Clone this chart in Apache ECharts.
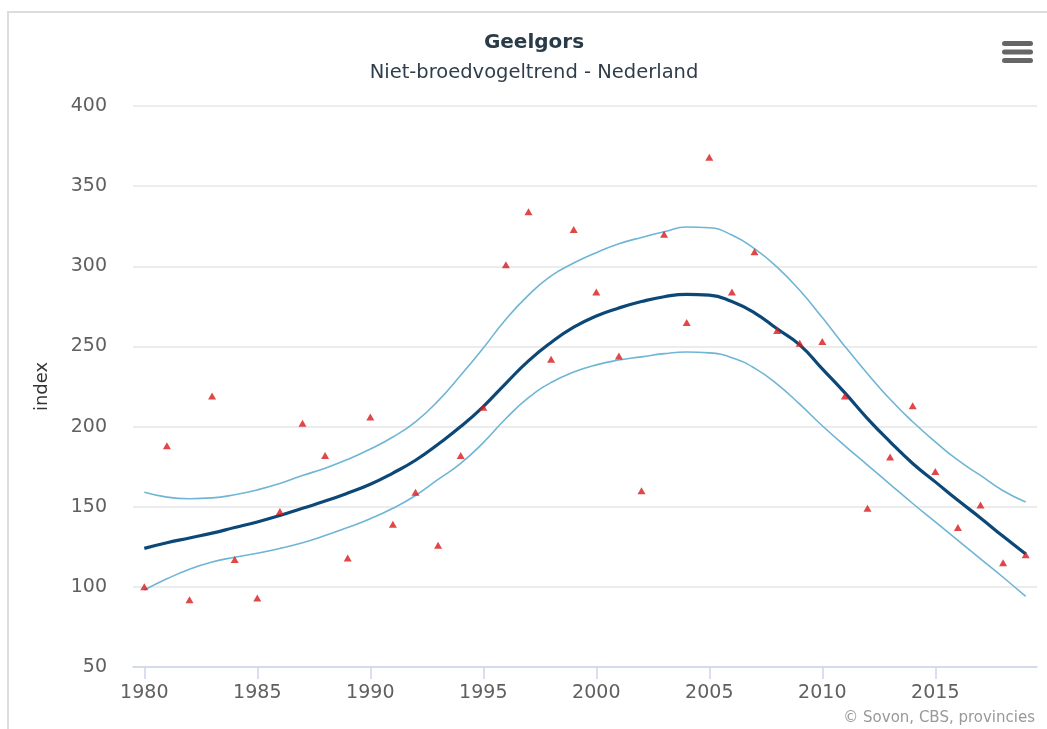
<!DOCTYPE html>
<html>
<head>
<meta charset="utf-8">
<script src="https://cdn.jsdelivr.net/npm/echarts@6/dist/echarts.min.js"></script>
<style>
  html, body { margin: 0; padding: 0; background: #ffffff; }
  #chart { width: 1047px; height: 729px; }
</style>
</head>
<body>
<div id="chart"></div>
<script>
// Years on the horizontal axis
const years = [];
for (let y = 1980; y <= 2019; y++) years.push(String(y));

// Yearly index values (triangles)
const indexValues = [
  100, 188, 92, 219, 117, 93, 147, 202, 182, 118,
  206, 139, 159, 126, 182, 212, 301, 334, 242, 323,
  284, 244, 160, 320, 265, 368, 284, 309, 260, 252,
  253, 219, 149, 181, 213, 172, 137, 151, 115, 120
];

// Smoothed trend
const trendValues = [
  124, 127.5, 130.5, 133.5, 137, 140.5, 144.5, 149, 153.5, 158.5,
  164, 171, 179, 189, 200, 212.5, 227, 241, 252.5, 262,
  269, 274, 278, 281, 282.5, 282, 278, 271, 261, 251,
  236, 221, 205, 190.5, 177, 165.5, 154, 143, 131.5, 120.5
];

// Upper confidence limit
const upperValues = [
  159, 156, 155, 155.5, 157.5, 160.5, 164.5, 169.5, 174, 179.5,
  186, 193.5, 203, 216, 232, 249, 267, 282, 294, 302,
  308.5, 314, 318, 321.5, 324.5, 324, 319.5, 311, 299.5, 285,
  268, 250, 233, 217, 203, 190.5, 179, 169.5, 160, 153
];

// Lower confidence limit
const lowerValues = [
  98, 105, 111, 115.5, 118.5, 121, 124, 127.5, 132, 137,
  142.5, 149, 157, 167, 177, 190, 205, 218, 227.5, 234,
  238.5, 241.5, 243.5, 245.5, 246.5, 246, 243, 236.5, 226.5, 214,
  200.5, 188, 176, 164, 152, 140.5, 129, 117.5, 106, 94
];

const FONT = '"DejaVu Sans", sans-serif';
const chart = echarts.init(document.getElementById('chart'), null, { renderer: 'canvas' });

const bandLine = { color: '#6fb5d5', width: 1.6 };

chart.setOption({
  animation: false,
  backgroundColor: '#ffffff',
  graphic: [
    // chart frame
    {
      type: 'rect',
      shape: { x: 8, y: 12, width: 1100, height: 800 },
      style: { fill: 'none', stroke: '#dcdcdc', lineWidth: 2 },
      silent: true
    },
    // title and subtitle
    {
      type: 'text',
      x: 534, y: 43,
      style: {
        text: 'Geelgors', textAlign: 'center', textVerticalAlign: 'middle',
        fill: '#2a3b48', font: 'bold 20px ' + FONT
      }
    },
    {
      type: 'text',
      x: 534, y: 73,
      style: {
        text: 'Niet-broedvogeltrend - Nederland', textAlign: 'center', textVerticalAlign: 'middle',
        fill: '#2f3e4a', font: '19.5px ' + FONT
      }
    },
    // menu button
    { type: 'rect', shape: { x: 1002, y: 41, width: 31, height: 5, r: 2.5 }, style: { fill: '#666666' } },
    { type: 'rect', shape: { x: 1002, y: 49.5, width: 31, height: 5, r: 2.5 }, style: { fill: '#666666' } },
    { type: 'rect', shape: { x: 1002, y: 58, width: 31, height: 5, r: 2.5 }, style: { fill: '#666666' } },
    // credits
    {
      type: 'text',
      x: 1035, y: 718,
      style: {
        text: '\u00a9 Sovon, CBS, provincies', textAlign: 'right', textVerticalAlign: 'middle',
        fill: '#999999', font: '15px ' + FONT
      }
    }
  ],
  grid: { left: 133, right: 10, top: 106, bottom: 62, containLabel: false },
  xAxis: {
    type: 'category',
    data: years,
    boundaryGap: true,
    axisLine: { show: true, lineStyle: { color: '#ccd6eb', width: 1.5 } },
    axisTick: { show: true, alignWithLabel: true, interval: 4, length: 12, lineStyle: { color: '#ccd6eb', width: 1.5 } },
    axisLabel: { interval: 4, margin: 17, fontFamily: FONT, fontSize: 19, color: '#606060' },
    splitLine: { show: false }
  },
  yAxis: {
    type: 'value',
    min: 50,
    max: 400,
    interval: 50,
    name: 'index',
    nameLocation: 'middle',
    nameRotate: 90,
    nameGap: 82,
    nameTextStyle: { fontFamily: FONT, fontSize: 18, color: '#333333' },
    axisLine: { show: false },
    axisTick: { show: false },
    axisLabel: { margin: 26, fontFamily: FONT, fontSize: 19, color: '#606060' },
    splitLine: { lineStyle: { color: '#e6e6e6', width: 1.5 } }
  },
  series: [
    {
      name: 'Bovengrens',
      type: 'line',
      data: upperValues,
      smooth: true,
      showSymbol: false,
      lineStyle: bandLine,
      z: 2
    },
    {
      name: 'Ondergrens',
      type: 'line',
      data: lowerValues,
      smooth: true,
      showSymbol: false,
      lineStyle: bandLine,
      z: 2
    },
    {
      name: 'Trend',
      type: 'line',
      data: trendValues,
      smooth: true,
      showSymbol: false,
      lineStyle: { color: '#0c4877', width: 3.2 },
      z: 3
    },
    {
      name: 'Index',
      type: 'scatter',
      data: indexValues,
      symbol: 'triangle',
      symbolSize: [8, 7],
      itemStyle: { color: '#d7191c' },
      z: 4
    }
  ]
});
</script>
</body>
</html>
